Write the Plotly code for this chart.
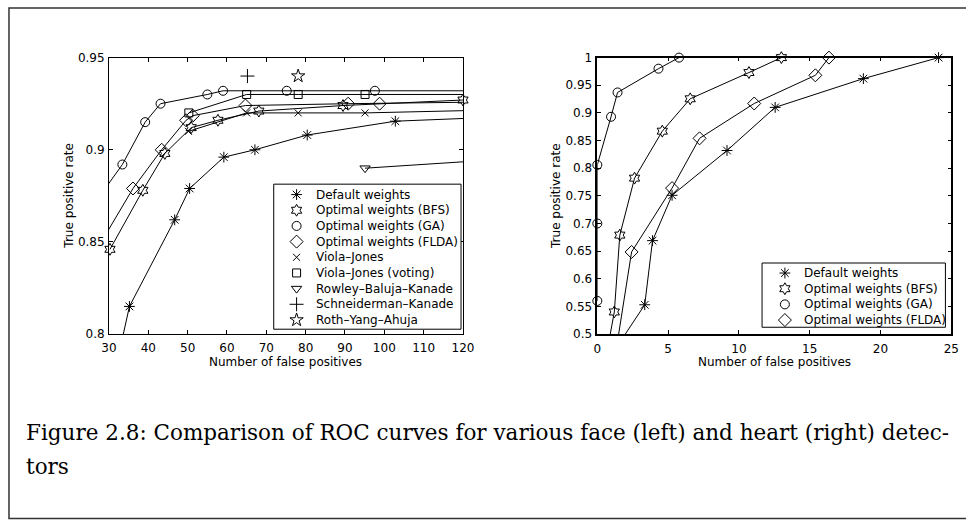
import plotly.graph_objects as go

W, H = 977, 527

# ---------------- face detectors (left panel) ----------------
face_names = [
    "Default weights", "Optimal weights (BFS)", "Optimal weights (GA)",
    "Optimal weights (FLDA)", "Viola\u2013Jones", "Viola\u2013Jones (voting)",
    "Rowley\u2013Baluja\u2013Kanade", "Schneiderman\u2013Kanade", "Roth\u2013Yang\u2013Ahuja",
]
face_default_fp = [29.8, 35.2, 46.7, 50.5, 59.2, 67.1, 80.4, 102.8, 167]
face_default_tp = [0.763, 0.815, 0.862, 0.879, 0.896, 0.900, 0.908, 0.9155, 0.921]
face_bfs_fp = [30.25, 38.6, 44.2, 50.9, 57.7, 68.1, 89.5, 120]
face_bfs_tp = [0.846, 0.878, 0.898, 0.912, 0.916, 0.921, 0.924, 0.927]
face_ga_fp = [25, 33.4, 39.2, 43.1, 55.0, 59.0, 75.2, 97.6, 167]
face_ga_tp = [0.867, 0.892, 0.915, 0.925, 0.930, 0.932, 0.932, 0.932, 0.932]
face_flda_fp = [25, 36.1, 43.4, 49.6, 51.3, 64.7, 90.8, 98.8, 167]
face_flda_tp = [0.839, 0.879, 0.900, 0.916, 0.9185, 0.924, 0.925, 0.925, 0.927]
face_vj_fp = [50.2, 65.0, 78.1, 95.1, 167]
face_vj_tp = [0.910, 0.920, 0.920, 0.920, 0.9235]
face_vjv_fp = [50.3, 65.0, 78.1, 95.1, 167]
face_vjv_tp = [0.920, 0.930, 0.930, 0.930, 0.930]
face_rbk_fp = [95.1, 167]
face_rbk_tp = [0.890, 0.900]
face_sk_fp = [65.2]
face_sk_tp = [0.940]
face_rya_fp = [78.1]
face_rya_tp = [0.940]

# ---------------- heart detectors (right panel) ----------------
heart_names = face_names[:4]
heart_default_fp = [1.2, 3.35, 3.9, 5.28, 9.16, 12.56, 18.79, 24.1]
heart_default_tp = [0.47, 0.553, 0.669, 0.751, 0.832, 0.910, 0.962, 1.0]
heart_bfs_fp = [0.7, 1.2, 1.59, 2.63, 4.59, 6.56, 10.71, 13.0]
heart_bfs_tp = [0.47, 0.54, 0.679, 0.782, 0.867, 0.9255, 0.973, 1.0]
heart_ga_fp = [0, 0, 0, 0.97, 1.43, 4.32, 5.77]
heart_ga_tp = [0.56, 0.70, 0.806, 0.893, 0.937, 0.980, 1.0]
heart_flda_fp = [1.2, 2.42, 5.28, 7.22, 11.08, 15.4, 16.36]
heart_flda_tp = [0.45, 0.6485, 0.764, 0.854, 0.917, 0.968, 1.0]

face_x_ticks = list(range(30, 121, 10))
face_y_ticks = [0.8, 0.85, 0.9, 0.95]
heart_x_ticks = list(range(0, 26, 5))
heart_y_ticks = [round(0.5 + 0.05 * i, 2) for i in range(11)]

symbols = ["asterisk-open", "hexagram-open", "circle-open", "diamond-open",
           "x-thin-open", "square-open", "triangle-down-open",
           "cross-thin-open", "star-open"]
sizes = [9, 9, 9, 10, 7, 8, 9, 10, 10]

face_series = [
    (face_default_fp, face_default_tp), (face_bfs_fp, face_bfs_tp),
    (face_ga_fp, face_ga_tp), (face_flda_fp, face_flda_tp),
    (face_vj_fp, face_vj_tp), (face_vjv_fp, face_vjv_tp),
    (face_rbk_fp, face_rbk_tp), (face_sk_fp, face_sk_tp),
    (face_rya_fp, face_rya_tp),
]
heart_series = [
    (heart_default_fp, heart_default_tp), (heart_bfs_fp, heart_bfs_tp),
    (heart_ga_fp, heart_ga_tp), (heart_flda_fp, heart_flda_tp),
]

FACE_XR, FACE_YR = (30, 120), (0.8, 0.95)
HEART_XR, HEART_YR = (0, 25), (0.5, 1.0)

fig = go.Figure()


def marker_style(i):
    return dict(symbol=symbols[i], size=sizes[i], color="black",
                line=dict(color="black", width=1))


def add_series(i, xs, ys, xa, ya, xr, yr):
    # the connecting line is clipped to the axes; markers on the frame stay whole
    if len(xs) > 1:
        fig.add_trace(go.Scatter(x=xs, y=ys, mode="lines", xaxis=xa, yaxis=ya,
                                 line=dict(color="black", width=1),
                                 showlegend=False, hoverinfo="skip"))
    eps = 1e-9
    keep = [(x, y) for x, y in zip(xs, ys)
            if xr[0] - eps <= x <= xr[1] + eps and yr[0] - eps <= y <= yr[1] + eps]
    if keep:
        fig.add_trace(go.Scatter(
            x=[k[0] for k in keep], y=[k[1] for k in keep], mode="markers",
            xaxis=xa, yaxis=ya, cliponaxis=False, showlegend=False,
            marker=marker_style(i)))


for i, (xs, ys) in enumerate(face_series):
    add_series(i, xs, ys, "x", "y", FACE_XR, FACE_YR)
for i, (xs, ys) in enumerate(heart_series):
    add_series(i, xs, ys, "x2", "y2", HEART_XR, HEART_YR)

# pixel-frame helpers (overlay axes x3/y3 span the whole page in pixels)
FONT = "DejaVu Sans"
annotations = []
shapes = []


def draw_legend(names, box, mx, tx, y0, dy):
    shapes.append(dict(type="rect", xref="x3", yref="y3", x0=box[0], y0=box[1],
                       x1=box[2], y1=box[3], line=dict(color="black", width=1),
                       fillcolor="white", layer="below"))
    for i, name in enumerate(names):
        yy = y0 + dy * i
        fig.add_trace(go.Scatter(
            x=[mx], y=[yy], mode="markers", xaxis="x3", yaxis="y3",
            showlegend=False, hoverinfo="skip", cliponaxis=False,
            marker=marker_style(i)))
        annotations.append(dict(x=tx, y=yy, xref="x3", yref="y3", text=name,
                                showarrow=False, xanchor="left", yanchor="middle",
                                font=dict(family=FONT, size=12, color="black")))


draw_legend(face_names, (271, 182, 462, 331), 294.3, 312, 192.7, 16.1)
draw_legend(heart_names, (769, 263, 956, 329), 792.3, 810, 273.3, 16.1)

# axis titles
for x, y, txt, ang in [(283.5, 365, "Number of false positives", 0),
                       (781.5, 365, "Number of false positives", 0),
                       (62, 194, "True positive rate", -90),
                       (559, 194, "True positive rate", -90)]:
    annotations.append(dict(x=x, y=y, xref="x3", yref="y3", text=txt,
                            showarrow=False, textangle=ang,
                            xanchor="center", yanchor="middle",
                            font=dict(family=FONT, size=12, color="black")))

# caption
CAP_FONT = dict(family="DejaVu Serif", size=21.5, color="black")
annotations.append(dict(x=16, y=437, xref="x3", yref="y3", showarrow=False,
                        xanchor="left", yanchor="middle", font=CAP_FONT,
                        text="Figure 2.8: Comparison of ROC curves for various face "
                             "(left) and heart (right) detec-"))
annotations.append(dict(x=16, y=472, xref="x3", yref="y3", showarrow=False,
                        xanchor="left", yanchor="middle", font=CAP_FONT,
                        text="tors"))

# page frame
shapes.append(dict(type="rect", xref="x3", yref="y3", x0=1, y0=1, x1=1000,
                   y1=525.5, line=dict(color="#333", width=1.5), layer="above"))


def axis(domain, rng, ticks, anchor, lw, standoff):
    return dict(domain=domain, range=list(rng), anchor=anchor, tickvals=ticks,
                showline=True, linecolor="black", linewidth=lw, mirror="ticks",
                ticks="inside", ticklen=4, tickcolor="black", tickwidth=1,
                showgrid=False, zeroline=False, fixedrange=True,
                ticklabelstandoff=standoff,
                tickfont=dict(family=FONT, size=12, color="black"))


ydom = [(H - 336) / H, (H - 52) / H]
fig.update_layout(
    width=W, height=H, margin=dict(l=0, r=0, t=0, b=0),
    paper_bgcolor="white", plot_bgcolor="rgba(0,0,0,0)", showlegend=False,
    xaxis=axis([103 / W, 464 / W], FACE_XR, face_x_ticks, "y", 1, 3),
    yaxis=axis(ydom, FACE_YR, face_y_ticks, "x", 1, 1),
    xaxis2=axis([601 / W, 962 / W], HEART_XR, heart_x_ticks, "y2", 1.5, 3),
    yaxis2=axis(ydom, HEART_YR, heart_y_ticks, "x2", 1.5, 1),
    xaxis3=dict(domain=[0, 1], range=[0, W], anchor="y3", visible=False,
                fixedrange=True),
    yaxis3=dict(domain=[0, 1], range=[H, 0], anchor="x3", visible=False,
                fixedrange=True),
    annotations=annotations, shapes=shapes,
)

fig.write_html("out.html")
